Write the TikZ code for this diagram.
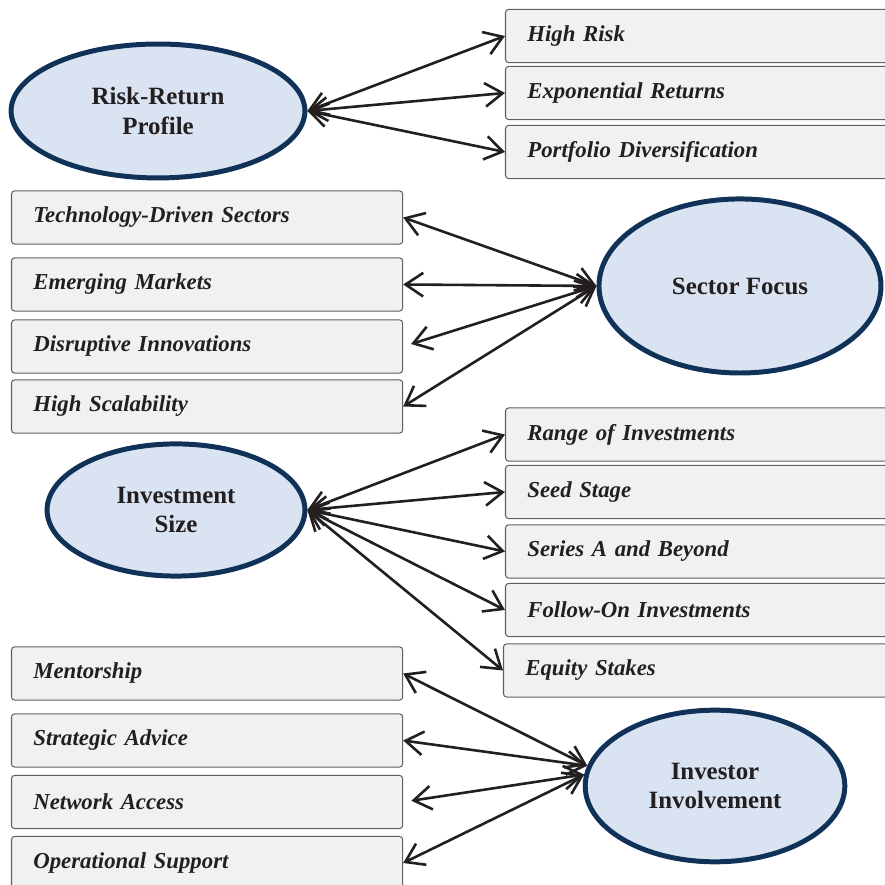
\documentclass[tikz,border=0pt]{standalone}
\usepackage{fontspec}
\setmainfont{Liberation Serif}
\usepackage{xcolor}
\usepackage{tikz}
\usetikzlibrary{arrows.meta, shapes.geometric}

\definecolor{navy}{RGB}{16,49,88}
\definecolor{paleblue}{RGB}{218,227,241}
\definecolor{boxgray}{RGB}{240,241,241}
\definecolor{edgegray}{RGB}{95,95,95}
\definecolor{ink}{RGB}{35,31,32}

\tikzset{
    hub/.style={ellipse, draw=navy, line width=2.4pt, fill=paleblue, inner sep=1pt, align=center, text=ink,
        font=\bfseries\fontsize{12}{14}\selectfont},
    leaf/.style={rectangle, rounded corners=1.5pt, draw=edgegray, line width=0.5pt, fill=boxgray, anchor=west,
        minimum height=0.9cm, inner xsep=0.37cm, align=left, text=ink, font=\bfseries\itshape\fontsize{11}{13}\selectfont},
    leftleaf/.style={leaf, text width=5.89cm},
    rightleaf/.style={leaf, text width=6.5cm},
    link/.style={{Straight Barb[length=3mm,width=4mm]}-{Straight Barb[length=3mm,width=4mm]}, line width=1.25pt, draw=ink}
}

\begin{document}
\begin{tikzpicture}
        \useasboundingbox (0.0, 0.0) rectangle (15.0, 15.0);

        % risk and return
        \node [hub, minimum width=4.98cm, minimum height=2.27cm] (rr) at (2.678, 13.119) {Risk-Return\\Profile};
        \node [rightleaf] (hr) at (8.559, 14.390) {High Risk};
        \node [rightleaf] (er) at (8.559, 13.424) {Exponential Returns};
        \node [rightleaf] (pd) at (8.559, 12.424) {Portfolio Diversification};
        \draw [link] (rr.east) -- (hr.west);
        \draw [link] (rr.east) -- (er.west);
        \draw [link] (rr.east) -- (pd.west);

        % sectors
        \node [hub, minimum width=4.78cm, minimum height=2.95cm] (sf) at (12.542, 10.153) {Sector Focus};
        \node [leftleaf] (td) at (0.186, 11.314) {Technology-Driven Sectors};
        \node [leftleaf] (em) at (0.186, 10.178) {Emerging Markets};
        \node [leftleaf] (di) at (0.186, 9.127) {Disruptive Innovations};
        \node [leftleaf] (hs) at (0.186, 8.110) {High Scalability};
        \draw [link] (sf.west) -- (td.east);
        \draw [link] (sf.west) -- (em.east);
        \draw [link, shorten >=0.14cm] (sf.west) -- (di.east);
        \draw [link] (sf.west) -- (hs.east);

        % investment size
        \node [hub, minimum width=4.37cm, minimum height=2.24cm] (is) at (2.983, 6.356) {Investment\\Size};
        \node [rightleaf] (ri) at (8.559, 7.636) {Range of Investments};
        \node [rightleaf] (ss) at (8.559, 6.661) {Seed Stage};
        \node [rightleaf] (sa) at (8.559, 5.653) {Series A and Beyond};
        \node [rightleaf] (fo) at (8.559, 4.661) {Follow-On Investments};
        \node [rightleaf] (es) at (8.525, 3.636) {Equity Stakes};
        \draw [link] (is.east) -- (ri.west);
        \draw [link] (is.east) -- (ss.west);
        \draw [link] (is.east) -- (sa.west);
        \draw [link] (is.east) -- (fo.west);
        \draw [link] (is.east) -- (es.west);

        % investor involvement
        \node [hub, minimum width=4.40cm, minimum height=2.57cm] (ii) at (12.119, 1.678) {Investor\\Involvement};
        \node [leftleaf] (me) at (0.186, 3.585) {Mentorship};
        \node [leftleaf] (sd) at (0.186, 2.449) {Strategic Advice};
        \node [leftleaf] (na) at (0.186, 1.407) {Network Access};
        \node [leftleaf] (os) at (0.186, 0.373) {Operational Support};
        \draw [link] (ii.171) -- (me.east);
        \draw [link] (ii.171) -- (sd.east);
        \draw [link, shorten >=0.14cm] (ii.175) -- (na.east);
        \draw [link] (ii.175) -- (os.east);
\end{tikzpicture}
\end{document}
